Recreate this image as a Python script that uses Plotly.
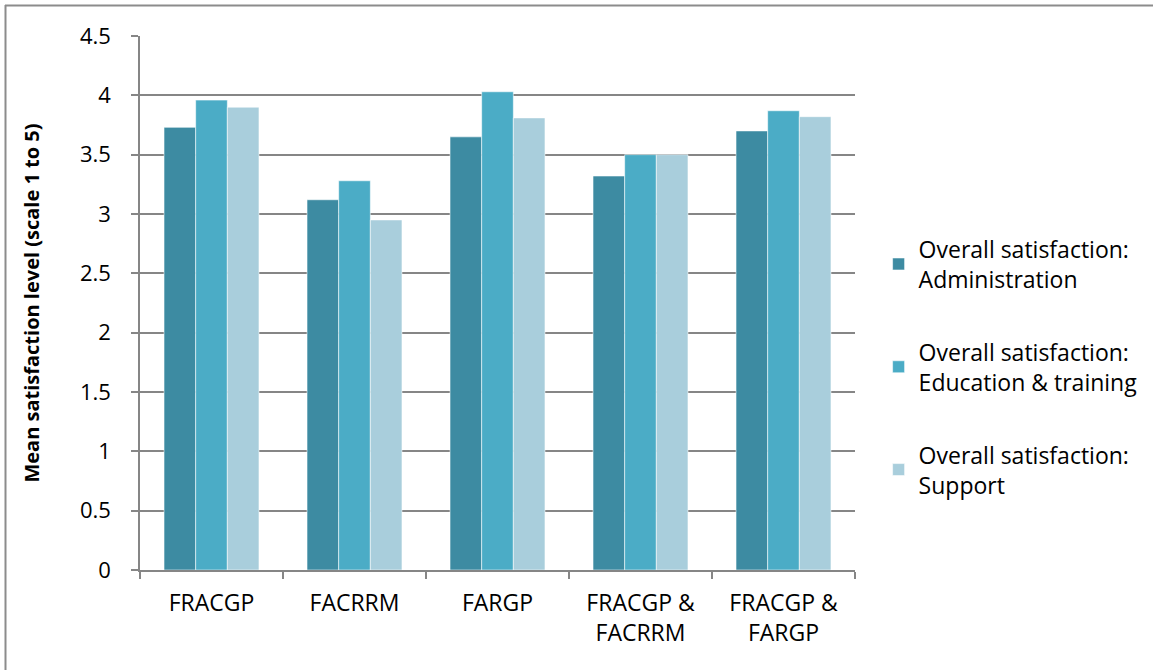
import plotly.graph_objects as go

# Qualification groups and mean satisfaction scores (scale 1 to 5)
categories = ["FRACGP", "FACRRM", "FARGP", "FRACGP &<br>FACRRM", "FRACGP &<br>FARGP"]
administration = [3.73, 3.12, 3.65, 3.32, 3.70]
education_training = [3.96, 3.28, 4.03, 3.50, 3.87]
support = [3.90, 2.95, 3.81, 3.50, 3.82]

series_names = [
    "Overall satisfaction:<br>Administration",
    "Overall satisfaction:<br>Education & training",
    "Overall satisfaction:<br>Support",
]
series_values = [administration, education_training, support]
series_colors = ["#3D8BA2", "#4BACC6", "#A9CEDC"]

y_ticks = [0, 0.5, 1, 1.5, 2, 2.5, 3, 3.5, 4, 4.5]
y_tick_text = ["0", "0.5", "1", "1.5", "2", "2.5", "3", "3.5", "4", "4.5"]

FONT = "Open Sans"
GRID = "#868686"

W, H = 1153, 670
L, R, T, B = 140, 298, 36, 100

fig = go.Figure()
for i, (name, vals, col) in enumerate(zip(series_names, series_values, series_colors)):
    fig.add_trace(go.Bar(
        x=categories, y=vals, name=name,
        legendgroup=f"g{i}",
        marker=dict(color=col, line=dict(color="rgba(255,255,255,0.55)", width=1)),
    ))

# outer frame of the chart area (top and left edges)
pw, ph = W - L - R, H - T - B
def px_x(p):
    return (p - L) / pw
def px_y(p):
    return (H - B - p) / ph

fig.add_shape(type="line", xref="paper", yref="paper",
              x0=px_x(5), x1=px_x(1153), y0=px_y(5.5), y1=px_y(5.5),
              line=dict(color="#8C8C8C", width=2))
fig.add_shape(type="line", xref="paper", yref="paper",
              x0=px_x(5.5), x1=px_x(5.5), y0=px_y(5), y1=px_y(670),
              line=dict(color="#8C8C8C", width=2))

fig.update_layout(
    width=W, height=H,
    margin=dict(l=L, r=R, t=T, b=B, autoexpand=False),
    paper_bgcolor="white", plot_bgcolor="white",
    barmode="group", bargap=0.336, bargroupgap=0,
    font=dict(family=FONT, size=22, color="#000000"),
    showlegend=True,
    legend=dict(
        x=1.033, y=0.38, xanchor="left", yanchor="middle",
        font=dict(family=FONT, size=23, color="#000000"),
        tracegroupgap=40, itemwidth=30,
        bgcolor="rgba(0,0,0,0)",
    ),
    xaxis=dict(
        type="category",
        showline=True, linecolor=GRID, linewidth=1.5,
        ticks="outside", ticklen=7, tickcolor=GRID, tickwidth=1.5,
        tickson="boundaries",
        showgrid=False,
        tickfont=dict(family=FONT, size=23, color="#000000"),
        ticklabelstandoff=12,
    ),
    yaxis=dict(
        range=[0, 4.5],
        tickvals=y_ticks, ticktext=y_tick_text,
        showline=True, linecolor=GRID, linewidth=1.5,
        ticks="outside", ticklen=7, tickcolor=GRID, tickwidth=1.5,
        showgrid=True, gridcolor=GRID, gridwidth=1.5,
        zeroline=False,
        tickfont=dict(family=FONT, size=22, color="#000000"),
        ticklabelstandoff=16,
        title=dict(text="<b>Mean satisfaction level (scale 1 to 5)</b>",
                   font=dict(family=FONT, size=20, color="#000000"),
                   standoff=35),
    ),
)

fig.write_html("out.html")
